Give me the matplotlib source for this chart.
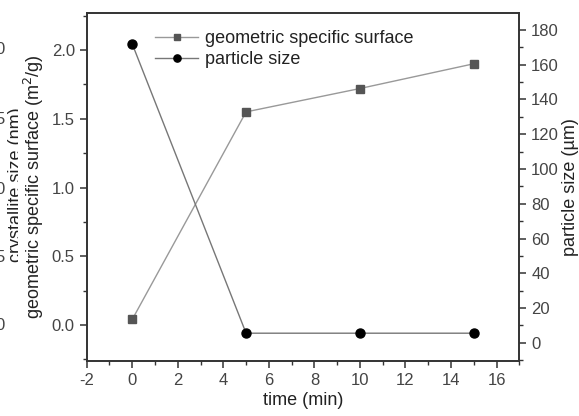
import matplotlib.pyplot as plt
from matplotlib.ticker import MultipleLocator

plt.rcParams['font.family'] = ['Liberation Sans', 'DejaVu Sans']
plt.rcParams['axes.unicode_minus'] = False

tempo = [0, 5, 10, 15]
superficie = [0.04, 1.55, 1.72, 1.90]
particula = [172, 5.5, 5.5, 5.5]

cinza = '#444444'

fig = plt.figure(figsize=(5.79, 4.16), dpi=100)
ax = fig.add_axes([0.1497, 0.1322, 0.7473, 0.8358])
ax2 = ax.twinx()

l1, = ax.plot(tempo, superficie, color='#999999', lw=1, marker='s', ms=5.5,
              mfc='#555555', mec='#555555', label='geometric specific surface')
l2, = ax2.plot(tempo, particula, color='#777777', lw=1, marker='o', ms=6.5,
               mfc='black', mec='black', label='particle size')

ax.set_xlim(-2, 17)
ax.set_ylim(-0.262, 2.267)
ax2.set_ylim(-10.5, 189.6)

ax.xaxis.set_major_locator(MultipleLocator(2))
ax.xaxis.set_minor_locator(MultipleLocator(1))
ax.yaxis.set_major_locator(MultipleLocator(0.5))
ax.yaxis.set_minor_locator(MultipleLocator(0.25))
ax2.yaxis.set_major_locator(MultipleLocator(20))
ax2.yaxis.set_minor_locator(MultipleLocator(10))

for a in (ax, ax2):
    for s in a.spines.values():
        s.set_color('#333333')
        s.set_linewidth(1.2)
    a.tick_params(which='major', direction='out', length=5, width=1.1,
                  color='#333333', labelsize=12, labelcolor=cinza)
    a.tick_params(which='minor', direction='out', length=3, width=1,
                  color='#333333')

ax.set_xlabel('time (min)', fontsize=13, color='#222222', labelpad=3)
ax.set_ylabel('geometric specific surface (m$^2$/g)', fontsize=13,
              color='#222222',
              bbox=dict(facecolor='white', edgecolor='none', pad=3))
ax.yaxis.set_label_coords(-0.094, 0.5)
ax2.set_ylabel('particle size (\u00b5m)', fontsize=13, color='#222222', labelpad=2)

ax.legend(handles=[l1, l2], loc='upper left', bbox_to_anchor=(0.12, 0.998),
          frameon=False, fontsize=13, handlelength=2.4, handletextpad=0.4,
          labelspacing=0.2, labelcolor='#222222', markerscale=0.8)

# restos do eixo cortado a esquerda
fig.text(16.8 / 579, 1 - 185 / 416, 'crystallite size (nm)', rotation=90,
         ha='center', va='center', fontsize=13, color='#222222', zorder=-1)
ghost_y = [50, 120, 190, 258, 325]
ghost_t = ['0', '5', '0', '5', '0']
for y, t in zip(ghost_y, ghost_t):
    fig.text(5 / 579, 1 - y / 416, t, ha='right', va='center',
             fontsize=12, color=cinza)

fig.savefig('out.png', dpi=100)
